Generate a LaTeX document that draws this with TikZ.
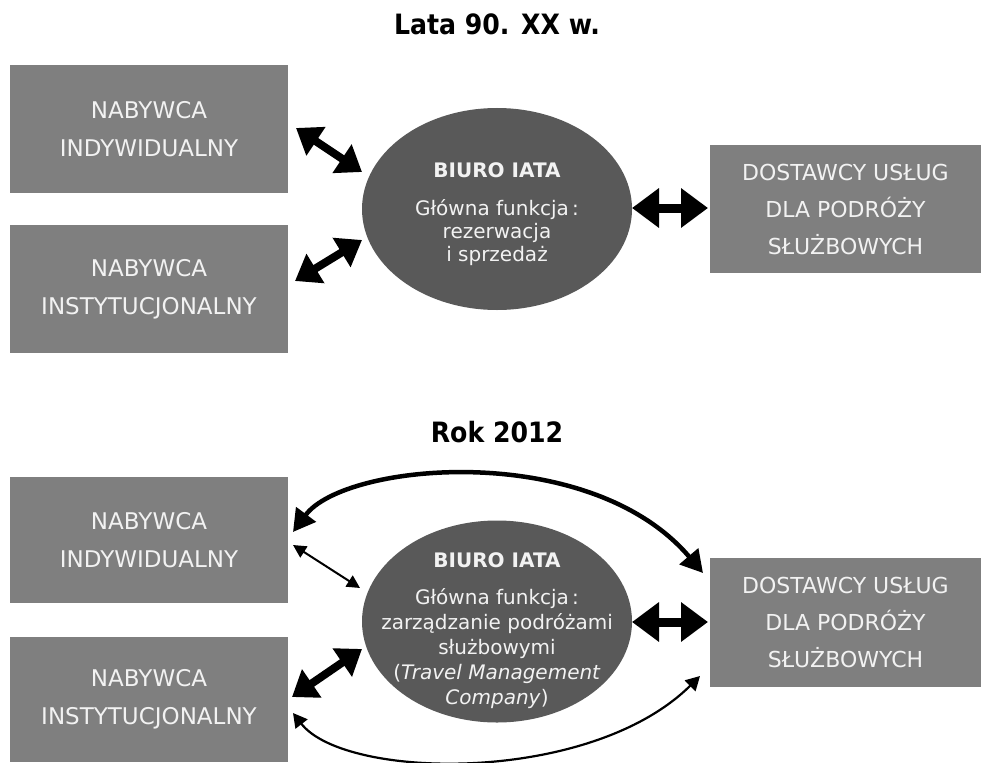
\documentclass[tikz,border=0pt]{standalone}
\usepackage{fontspec}
\setmainfont{DejaVu Sans}
\newfontfamily\condfont{DejaVu Sans Condensed}
\usetikzlibrary{arrows.meta,calc,shapes.geometric}
\definecolor{boxgray}{HTML}{7F7F7F}
\definecolor{ellgray}{HTML}{595959}
\definecolor{txtwhite}{HTML}{F2F2F2}
\tikzset{
  box/.style={fill=boxgray, draw=none, text=txtwhite, align=center, minimum width=278pt, minimum height=128pt, inner sep=0pt, font=\fontsize{23}{38}\selectfont},
  rbox/.style={box, minimum width=271pt, font=\fontsize{22}{37}\selectfont},
  ell/.style={ellipse, fill=ellgray, draw=none, inner sep=0pt, minimum width=270pt, minimum height=202pt},
  elltext/.style={text=txtwhite, align=center, inner sep=0pt, anchor=north},
  ttl/.style={font=\condfont\bfseries\fontsize{28}{32}\selectfont, anchor=base, inner sep=0pt},
  bigarr/.style={line width=8pt, {Triangle[length=24pt,width=33pt]}-{Triangle[length=24pt,width=33pt]}},
  horarr/.style={line width=9pt, {Triangle[length=27pt,width=38pt]}-{Triangle[length=27pt,width=38pt]}},
  thinarr/.style={line width=2pt, {Triangle[length=13pt,width=13pt]}-{Triangle[length=13pt,width=13pt]}},
  curvarr/.style={line width=4.5pt, {Triangle[length=22pt,width=24pt]}-{Triangle[length=22pt,width=24pt]}},
  curvthin/.style={line width=2.2pt, {Triangle[length=14pt,width=15pt]}-{Triangle[length=14pt,width=15pt]}}
}
\begin{document}
\begin{tikzpicture}[x=1pt,y=-1pt]
\useasboundingbox (0,0) rectangle (981,762);
% top
\node[ttl] (t1) at (497,35) {Lata 90. XX w.};
\node[box] (b1) at (149,129) {NABYWCA\\INDYWIDUALNY};
\node[box] (b2) at (149,289) {NABYWCA\\INSTYTUCJONALNY};
\node[ell] (e1) at (497,209) {};
\node[elltext, font=\fontsize{20}{23}\selectfont] (e1t) at (497,162.5) {\textbf{BIURO IATA}\\[15pt]Główna funkcja\,:\\rezerwacja\\i sprzedaż};
\node[rbox] (r1) at (845.5,209) {DOSTAWCY USŁUG\\DLA PODRÓŻY\\SŁUŻBOWYCH};
\coordinate (a1s) at (296,128); \coordinate (a1e) at (362,172);
\coordinate (a2s) at (295,281); \coordinate (a2e) at (362,240);
\coordinate (a3s) at (632,208); \coordinate (a3e) at (708,208);
\draw[bigarr] (a1s) -- (a1e);
\draw[bigarr] (a2s) -- (a2e);
\draw[horarr] (a3s) -- (a3e);
% bottom
\node[ttl] (t2) at (497,442) {Rok 2012};
\node[box, minimum height=126pt] (b3) at (149,540) {NABYWCA\\INDYWIDUALNY};
\node[box, minimum height=125pt] (b4) at (149,699.5) {NABYWCA\\INSTYTUCJONALNY};
\node[ell] (e2) at (497,621.5) {};
\node[elltext, font=\fontsize{20}{25}\selectfont] (e2t) at (497,552.5) {\textbf{BIURO IATA}\\[12pt]Główna funkcja\,:\\zarządzanie podróżami\\służbowymi\\(\textit{Travel Management}\\\textit{Company})};
\node[rbox, minimum height=129pt] (r2) at (845.5,622.5) {DOSTAWCY USŁUG\\DLA PODRÓŻY\\SŁUŻBOWYCH};
\coordinate (c1s) at (293,532); \coordinate (c1e) at (703,573);
\coordinate (c2s) at (293,713); \coordinate (c2e) at (700,676);
\coordinate (d1s) at (293,545); \coordinate (d1e) at (360,588);
\coordinate (d2s) at (292,697); \coordinate (d2e) at (362,649);
\coordinate (d3s) at (632,622); \coordinate (d3e) at (708,622);
\draw[curvarr] (c1s) .. controls (345,462) and (590,440) .. (c1e);
\draw[curvthin] (c2s) .. controls (345,780) and (590,785) .. (c2e);
\draw[thinarr] (d1s) -- (d1e);
\draw[bigarr] (d2s) -- (d2e);
\draw[horarr] (d3s) -- (d3e);
\end{tikzpicture}
\end{document}
